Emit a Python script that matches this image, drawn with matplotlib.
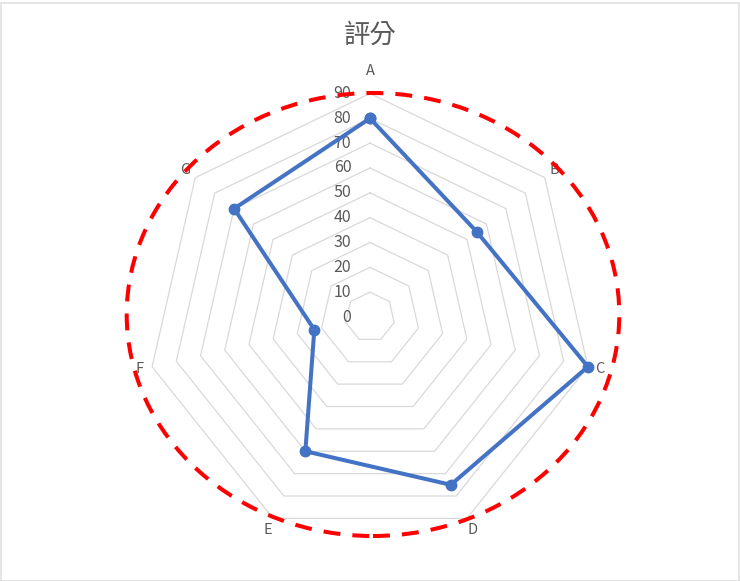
import numpy as np
import matplotlib
matplotlib.use("Agg")
import matplotlib.pyplot as plt
from matplotlib.patches import Ellipse, Rectangle
from matplotlib.transforms import offset_copy

plt.rcParams['font.family'] = ['Noto Sans CJK TC', 'DejaVu Sans']

title = "評分"
categories = ["A", "B", "C", "D", "E", "F", "G"]
scores = [80, 55, 90, 75, 60, 23, 70]
ring_values = [10, 20, 30, 40, 50, 60, 70, 80, 90]
tick_values = [0, 10, 20, 30, 40, 50, 60, 70, 80, 90]

W, H = 740, 581
fig = plt.figure(figsize=(W / 100, H / 100), dpi=100)

# chart centre (370, 317) px, radius of the 90 ring 223.5 px
cx, cy, R = 370, 317, 223.5
ax = fig.add_axes([(cx - R) / W, (H - cy - R) / H, 2 * R / W, 2 * R / H], projection='polar')
ax.set_theta_zero_location('N')
ax.set_theta_direction(-1)
ax.set_ylim(0, 90)
ax.grid(False)
ax.spines['polar'].set_visible(False)
ax.set_xticks([])
ax.set_yticks([])
ax.patch.set_alpha(0)

n = len(categories)
theta = np.linspace(0, 2 * np.pi, n, endpoint=False)
theta_closed = np.append(theta, theta[0])

# heptagon gridlines
for v in ring_values:
    ax.plot(theta_closed, [v] * (n + 1), color='#d9d9d9', lw=0.9, zorder=1, clip_on=False)

# radial tick labels, left of the A axis
lab_tr = offset_copy(ax.transData, fig=fig, x=-13.5, y=0, units='points')
for v in tick_values:
    ax.text(0, v, str(v), transform=lab_tr, ha='right', va='center',
            fontsize=11.5, color='#595959')

# category labels
for t, c in zip(theta, categories):
    r = 99 if c == "A" else 95
    ax.text(t, r, c, ha='center', va='center', fontsize=10.5, color='#595959')

# data series
vals = np.append(scores, scores[0])
ax.plot(theta_closed, vals, color='#4472c4', lw=2.9, marker='o', markersize=7.5,
        zorder=3, clip_on=False)

fig.text(cx / W, 1 - 35 / H, title, ha='center', va='center', fontsize=19, color='#595959')

# red dashed ellipse overlay
ell = Ellipse((373 / W, 1 - 314.5 / H), 492.6 / W, 443 / H, transform=fig.transFigure,
              fill=False, ec='#ff0000', lw=2.9, ls=(0, (4.2, 3.0)), zorder=5)
fig.patches.append(ell)

# chart border
border = Rectangle((0.5 / W, 0.5 / H), 1 - 2 / W, 1 - 3 / H, transform=fig.transFigure,
                   fill=False, ec='#e0e0e0', lw=1.2, zorder=6)
fig.patches.append(border)

fig.savefig('out.png', dpi=100, facecolor='white')
